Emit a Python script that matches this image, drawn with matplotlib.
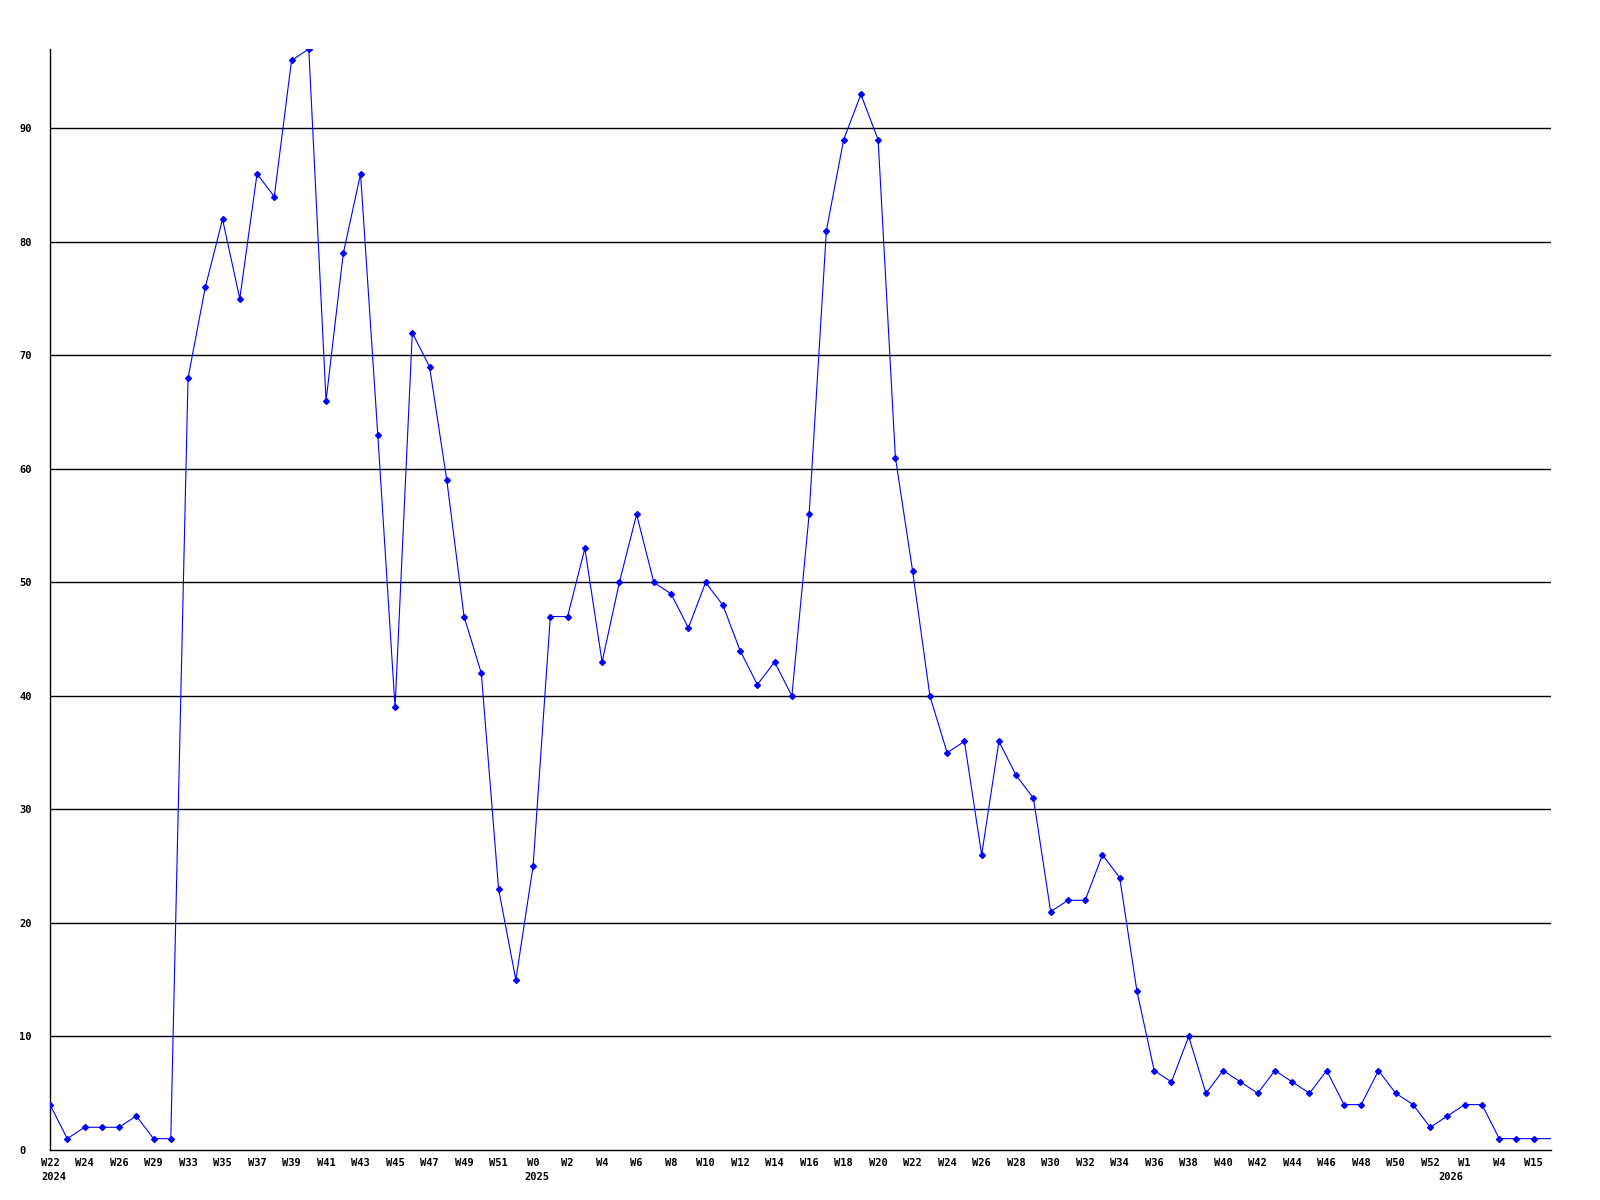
import matplotlib.pyplot as plt
from matplotlib.transforms import blended_transform_factory

# weekly counts, one value per week
values = [4, 1, 2, 2, 2, 3, 1, 1,
          68, 76, 82, 75, 86, 84, 96, 97,
          66, 79, 86, 63, 39, 72, 69, 59,
          47, 42, 23, 15, 25, 47, 47, 53,
          43, 50, 56, 50, 49, 46, 50, 48,
          44, 41, 43, 40, 56, 81, 89, 93,
          89, 61, 51, 40, 35, 36, 26, 36,
          33, 31, 21, 22, 22, 26, 24, 14,
          7, 6, 10, 5, 7, 6, 5, 7,
          6, 5, 7, 4, 4, 7, 5, 4,
          2, 3, 4, 4, 1, 1, 1, 1]

# every second point gets a label
week_labels = ["W22", "W24", "W26", "W29", "W33", "W35", "W37", "W39", "W41",
               "W43", "W45", "W47", "W49", "W51", "W0", "W2", "W4", "W6", "W8",
               "W10", "W12", "W14", "W16", "W18", "W20", "W22", "W24", "W26",
               "W28", "W30", "W32", "W34", "W36", "W38", "W40", "W42", "W44",
               "W46", "W48", "W50", "W52", "W1", "W4", "W15"]
years = ["2024", "2025", "2026"]
year_pos = [0.2, 28.2, 81.2]

y_ticks = [0, 10, 20, 30, 40, 50, 60, 70, 80, 90]

font = {"family": "DejaVu Sans Mono", "weight": "bold", "size": 7.5}

fig = plt.figure(figsize=(16, 12), dpi=100)
ax = fig.add_axes([50 / 1600, 50 / 1200, 1501 / 1600, 1101 / 1200])

x = list(range(len(values)))
ax.plot(x, values, color="#0000ff", linewidth=0.8, marker="D", markersize=3,
        markevery=list(range(len(values) - 1)), zorder=3)

for t in y_ticks[1:]:
    ax.axhline(t, color="black", linewidth=1, zorder=1)

ax.set_xlim(0, len(values) - 1)
ax.set_ylim(0, max(values))

ax.set_xticks(x[::2])
ax.set_xticklabels(week_labels, fontdict=font)
ax.set_yticks(y_ticks)
ax.set_yticklabels([str(t) for t in y_ticks], fontdict=font)
for lbl in ax.get_yticklabels():
    lbl.set_horizontalalignment("left")

ax.tick_params(axis="x", length=0, pad=6)
ax.tick_params(axis="y", length=0, pad=22)

for s in ["top", "right"]:
    ax.spines[s].set_visible(False)
ax.spines["left"].set_color("black")
ax.spines["bottom"].set_color("black")
ax.spines["left"].set_linewidth(1)
ax.spines["bottom"].set_linewidth(1)

trans = blended_transform_factory(ax.transData, ax.transAxes)
for yr, p in zip(years, year_pos):
    ax.text(p, -0.0245, yr, transform=trans, ha="center", va="center", **font)

fig.savefig("out.png", dpi=100, facecolor="white")
